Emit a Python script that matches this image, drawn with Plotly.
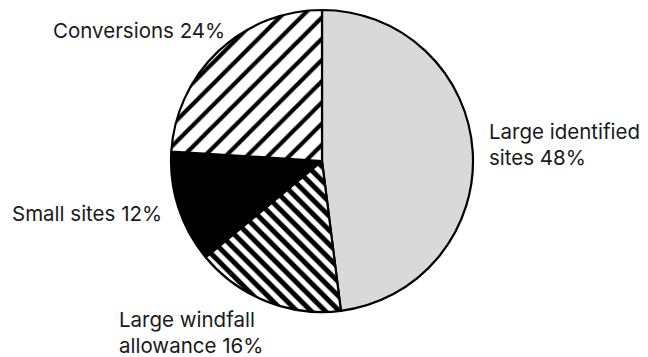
import plotly.graph_objects as go

# Housing supply sources (share of total, %)
labels = ["Large identified sites", "Large windfall allowance", "Small sites", "Conversions"]
values = [48, 16, 12, 24]
label_lines = [["Large identified", "sites"], ["Large windfall", "allowance"], ["Small sites"], ["Conversions"]]

fills = ["#d9d9d9", "white", "black", "white"]
shapes = ["", "\\", "", "/"]
sizes = [8, 10, 8, 15]
solidities = [0.3, 0.5, 0.3, 0.28]

W, H = 648, 357

fig = go.Figure(go.Pie(
    labels=labels,
    values=values,
    sort=False,
    direction="clockwise",
    rotation=0,
    textinfo="none",
    hoverinfo="label+percent",
    showlegend=False,
    marker=dict(
        colors=fills,
        line=dict(color="black", width=2.2),
        pattern=dict(shape=shapes, size=sizes, solidity=solidities,
                     fgcolor="black", fgopacity=1, fillmode="overlay"),
    ),
    domain=dict(x=[171 / W, 473 / W], y=[1 - 312 / H, 1 - 10 / H]),
))

# Label placement: left edge and vertical centre of each text line, in pixels
label_pos = [(488, [131, 157]), (118, [319, 345]), (11, [213]), (52, [30])]
for lines, val, (px, ys) in zip(label_lines, values, label_pos):
    rows = lines[:-1] + [f"{lines[-1]} {val}%"]
    for row, py in zip(rows, ys):
        fig.add_annotation(
            x=px / W, y=1 - py / H, xref="paper", yref="paper",
            xanchor="left", yanchor="middle", align="left",
            text=row, showarrow=False, borderpad=0,
            font=dict(family="Inter, Liberation Sans, sans-serif", size=20.5, color="#1a1a1a"),
        )

fig.update_layout(
    width=W, height=H,
    margin=dict(l=0, r=0, t=0, b=0),
    paper_bgcolor="white", plot_bgcolor="white",
)

fig.write_html("out.html")
